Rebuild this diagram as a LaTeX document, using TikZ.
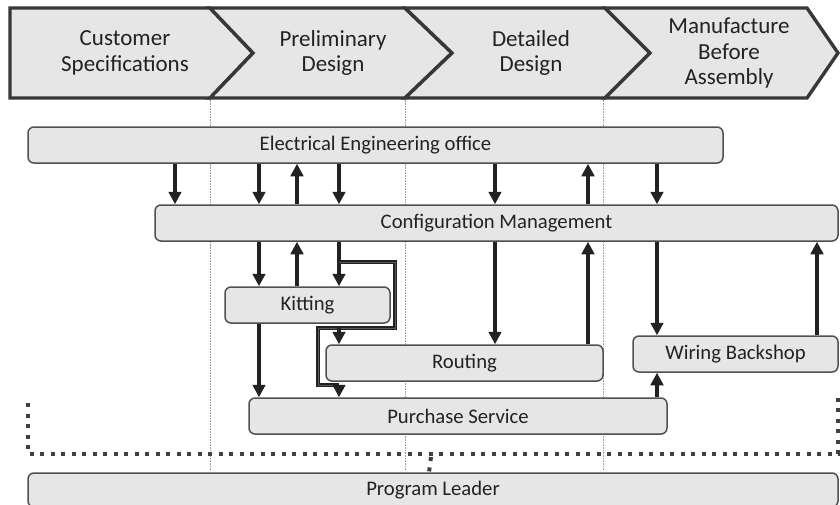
\documentclass[tikz,border=0pt]{standalone}
\usepackage{fontspec}
\setmainfont{Carlito}
\usetikzlibrary{arrows.meta}
\definecolor{boxgray}{HTML}{E6E6E6}
\definecolor{edgegray}{HTML}{505050}
\definecolor{inkgray}{HTML}{222222}
\tikzset{
    phase/.style={draw=inkgray!90,line width=3.4pt,fill=boxgray,line join=miter},
    phasetext/.style={align=center,text=inkgray,font=\fontsize{23}{25.5}\selectfont},
    dept/.style={draw=edgegray,line width=1.5pt,fill=boxgray,rounded corners=6pt,
        inner sep=0pt,text=inkgray,font=\fontsize{20.7}{24}\selectfont},
    flow/.style={draw=inkgray,line width=3.4pt,-{Triangle[length=12.5pt,width=12.5pt]}},
    kitfeed/.style={draw=inkgray,line width=1.5pt,double=black!65,double distance=0.8pt,line join=miter},
    sep/.style={draw=gray!80,line width=0.6pt,densely dotted},
    loopline/.style={draw=black!75,line width=4pt,dash pattern=on 4pt off 6.5pt}
}
\begin{document}
\begin{tikzpicture}[x=1pt,y=-1pt]
\useasboundingbox (0,0) rectangle (840,504);
\clip (0,0) rectangle (840,504);

\foreach \v in {210,405,603}
{
    \draw[sep] (\v,98) -- (\v,470);
};

\foreach \a/\b/\c/\n in {10/210/253/10, 210/405/452/253, 405/605/650/452, 605/807/838/650}
{
    \draw[phase] (\a,8) -- (\b,8) -- (\c,53) -- (\b,98) -- (\a,98) -- (\n,53) -- cycle;
};
\node[phasetext] (pCust) at (125,53) {Customer\\Specifications};
\node[phasetext] (pPrel) at (333,53) {Preliminary\\Design};
\node[phasetext] (pDet) at (531,53) {Detailed\\Design};
\node[phasetext] (pMan) at (729,53) {Manufacture\\Before\\Assembly};

\node[dept,minimum width=695pt,minimum height=36pt] (ee) at (375.5,145) {Electrical Engineering office};
\node[dept,minimum width=683pt,minimum height=36pt] (cm) at (496.5,223) {Configuration Management};
\node[dept,minimum width=165pt,minimum height=36pt] (kit) at (307.5,305) {Kitting};
\node[dept,minimum width=277pt,minimum height=36pt] (rout) at (464.5,363) {Routing};
\node[dept,minimum width=205pt,minimum height=36pt] (wb) at (735.5,354) {Wiring Backshop};
\node[dept,minimum width=418pt,minimum height=36pt] (ps) at (458,416) {Purchase Service};
\node[dept,minimum width=810pt,minimum height=34pt] (pl) at (433,490) {Program Leader};

\foreach \u/\a/\b in {175/ee/cm, 259/ee/cm, 339/ee/cm, 495/ee/cm, 657/ee/cm,
    259/cm/kit, 339/cm/kit, 259/kit/ps, 495/cm/rout, 657/cm/wb}
{
    \draw[flow] (\a.south -| \u,0) -- (\b.north -| \u,0);
};
\foreach \u/\a/\b in {297/cm/ee, 588/cm/ee, 297/kit/cm, 588/rout/cm, 817/wb/cm, 657/ps/wb}
{
    \draw[flow] (\a.north -| \u,0) -- (\b.south -| \u,0);
};

\coordinate (kA) at (339,262);
\coordinate (kB) at (339,328);
\coordinate (kC) at (339,385);
\draw[kitfeed] (kA) -- (395,262) -- (395,328) -- (318,328) -- (318,385) -- (kC);
\draw[flow] (kB) -- (rout.north -| kB);
\draw[flow] (kC) -- (ps.north -| kC);

\coordinate (lpA) at (28,403);
\coordinate (lpB) at (838,397);
\coordinate (lpC) at (431,457);
\draw[loopline] (lpA) -- (28,454) -- (838,454) -- (lpB);
\draw[loopline] (lpC) -- (pl.north -| 429,0);

\end{tikzpicture}
\end{document}
